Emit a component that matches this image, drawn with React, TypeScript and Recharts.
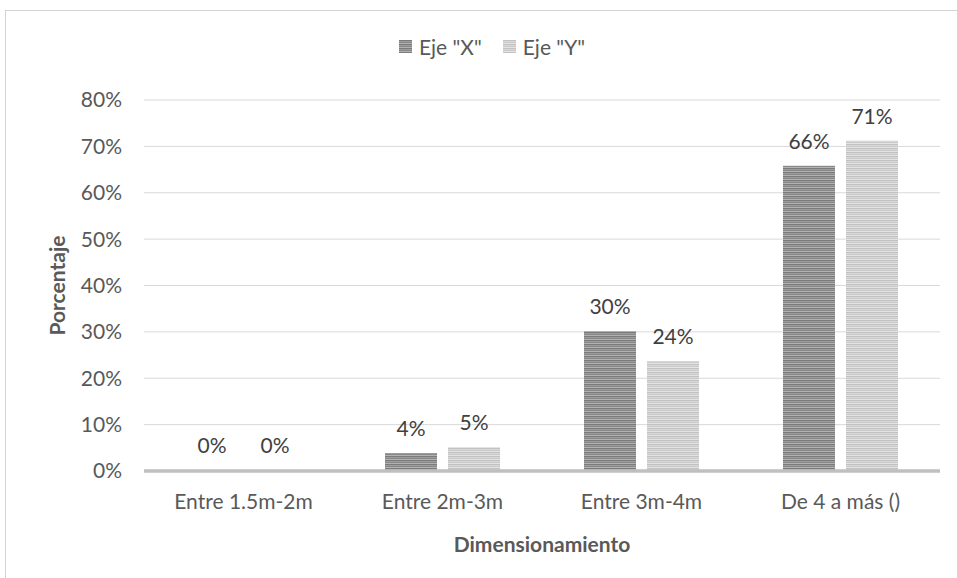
import { Bar, BarChart, CartesianGrid, Label, LabelList, Legend, XAxis, YAxis } from "recharts";

const categories = ["Entre 1.5m-2m", "Entre 2m-3m", "Entre 3m-4m", "De 4 a más ()"];
const ejeX = [0, 3.9, 30.2, 65.8];
const ejeY = [0, 5.2, 23.7, 71.2];
const yTicks = [0, 10, 20, 30, 40, 50, 60, 70, 80];
const seriesNames = ['Eje "X"', 'Eje "Y"'];
const seriesKeys = ["x", "y"];
const patternIds = ["stripesX", "stripesY"];

const data = categories.map((name, i) => ({ name, x: ejeX[i], y: ejeY[i] }));

const FONT = "Lato, 'Noto Sans', sans-serif";
const TEXT = "#595959";

function renderLegend() {
  return (
    <div style={{ display: "flex", alignItems: "center", fontSize: 21, lineHeight: 1, color: TEXT, fontFamily: FONT }}>
      {seriesNames.map((name, i) => (
        <span key={name} style={{ display: "flex", alignItems: "center", marginLeft: i === 0 ? 0 : 21 }}>
          <svg width={13} height={13}>
            <rect width={13} height={13} fill={`url(#${patternIds[i]})`} />
          </svg>
          <span style={{ marginLeft: 7 }}>{name}</span>
        </span>
      ))}
    </div>
  );
}

function YTitle(props: any) {
  const vb = props.viewBox ?? { x: 0, y: 100, width: 144, height: 371 };
  const x = vb.x + 65;
  const y = vb.y + vb.height / 2;
  return (
    <text x={x} y={y} transform={`rotate(-90, ${x}, ${y})`} textAnchor="middle" fill={TEXT} fontSize={21} fontWeight={700} fontFamily={FONT}>
      Porcentaje
    </text>
  );
}

function XTitle(props: any) {
  const vb = props.viewBox ?? { x: 144, y: 471, width: 796, height: 107 };
  return (
    <text x={vb.x + vb.width / 2} y={vb.y + 81} textAnchor="middle" fill={TEXT} fontSize={21} fontWeight={700} fontFamily={FONT}>
      Dimensionamiento
    </text>
  );
}

export default function App() {
  return (
    <div style={{ position: "absolute", left: 0, top: 0, width: 957, height: 578, background: "#fff", overflow: "hidden", fontFamily: FONT }}>
      <div
        style={{
          position: "absolute",
          left: 5,
          top: 10,
          width: 1000,
          height: 600,
          borderTop: "1px solid #d4d4d4",
          borderLeft: "1px solid #d4d4d4",
        }}
      />
      <BarChart
        width={957}
        height={578}
        data={data}
        margin={{ top: 100, right: 17, bottom: 0, left: 0 }}
        barCategoryGap={42}
        barGap={11}
        style={{ position: "absolute", left: 0, top: 0 }}
      >
        <defs>
          <pattern id="stripesX" width="4" height="4" patternUnits="userSpaceOnUse">
            <rect y="0" width="4" height="1" fill="#7b7b7b" />
            <rect y="1" width="4" height="1" fill="#9c9c9c" />
            <rect y="2" width="4" height="1" fill="#888888" />
            <rect y="3" width="4" height="1" fill="#b2b2b2" />
          </pattern>
          <pattern id="stripesY" width="4" height="4" patternUnits="userSpaceOnUse">
            <rect y="0" width="4" height="1" fill="#c2c2c2" />
            <rect y="1" width="4" height="1" fill="#d8d8d8" />
            <rect y="2" width="4" height="1" fill="#cacaca" />
            <rect y="3" width="4" height="1" fill="#e4e4e4" />
          </pattern>
        </defs>
        <CartesianGrid vertical={false} stroke="#d9d9d9" />
        <XAxis
          dataKey="name"
          height={107}
          tickSize={0}
          tickMargin={23}
          axisLine={{ stroke: "#bfbfbf", strokeWidth: 3.5 }}
          tickLine={false}
          tick={{ fill: TEXT, fontSize: 21, fontFamily: FONT }}
          interval={0}
        >
          <Label content={XTitle} />
        </XAxis>
        <YAxis
          width={144}
          domain={[0, 80]}
          ticks={yTicks}
          tickSize={0}
          tickMargin={22}
          axisLine={false}
          tickLine={false}
          tickFormatter={(v) => `${v}%`}
          tick={{ fill: TEXT, fontSize: 21, fontFamily: FONT }}
        >
          <Label content={YTitle} />
        </YAxis>
        <Legend
          layout="horizontal"
          verticalAlign="middle"
          align="center"
          wrapperStyle={{ top: 36, left: 399, width: "auto" }}
          content={renderLegend}
        />
        {seriesKeys.map((key, i) => (
          <Bar
            key={key}
            dataKey={key}
            name={seriesNames[i]}
            fill={`url(#${patternIds[i]})`}
            minPointSize={1}
            isAnimationActive={false}
          >
            <LabelList
              dataKey={key}
              position="top"
              offset={17}
              formatter={(v: any) => `${Math.round(Number(v))}%`}
              fill="#404040"
              fontSize={21}
              fontFamily={FONT}
            />
          </Bar>
        ))}
      </BarChart>
    </div>
  );
}
